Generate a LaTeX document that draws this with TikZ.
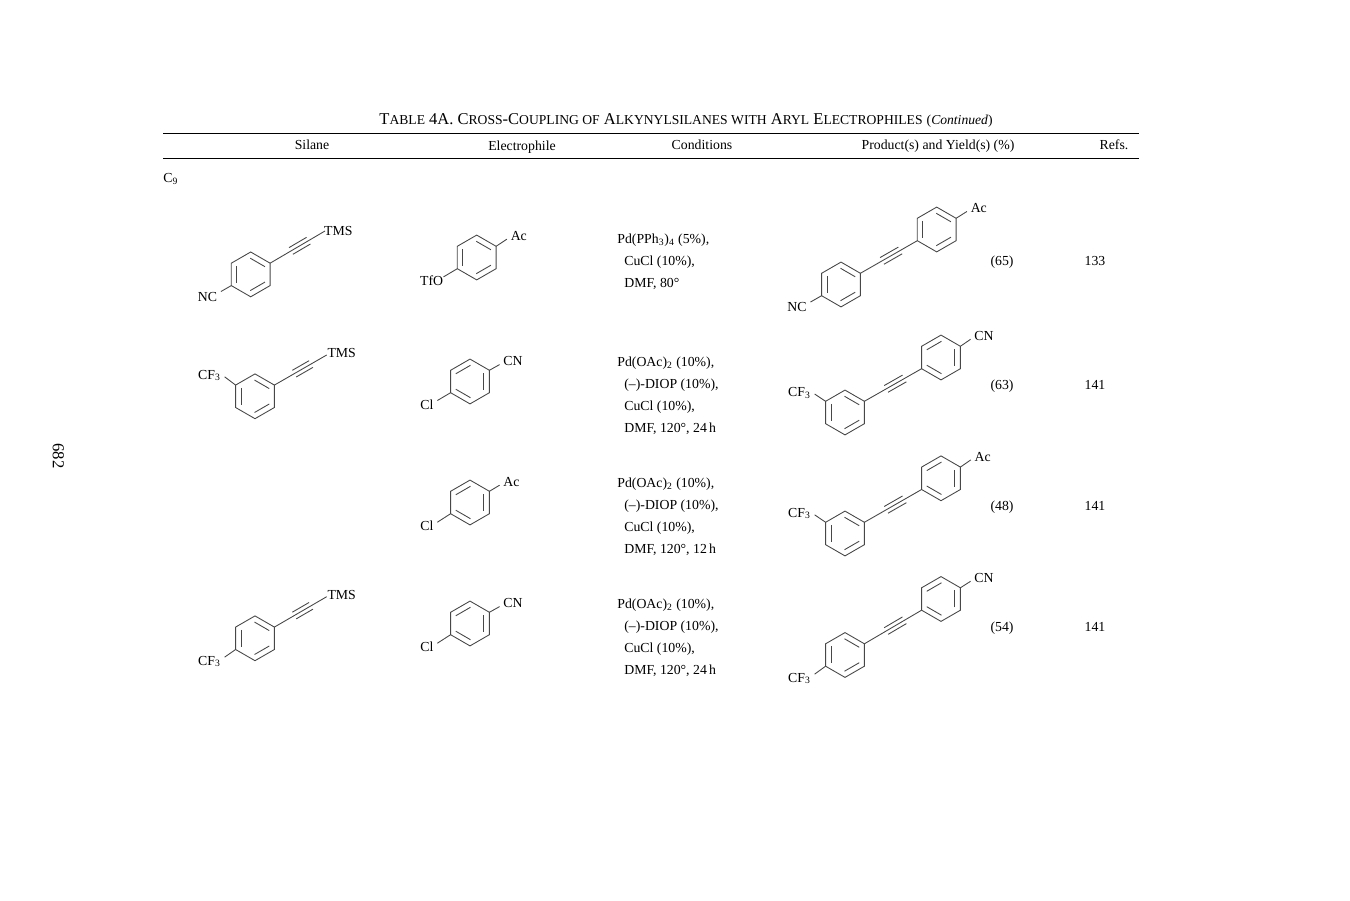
\documentclass[tikz,border=0pt]{standalone}
\usepackage{fontspec}
\setmainfont{Liberation Serif}
\usetikzlibrary{calc}
\newcommand{\tabfont}{\fontsize{7.85}{10}\selectfont}
\newcommand{\capfont}[1]{{\fontsize{7.75}{10}\selectfont #1}}
\newcommand{\tribond}[2]{%
  \draw[bond]
    (#1)
    --
    (#2);
  \draw[bond]
    ($(#1)!.38!(#2)!2.2pt!90:(#2)$)
    --
    ($(#1)!.70!(#2)!2.2pt!90:(#2)$);
  \draw[bond]
    ($(#1)!.38!(#2)!2.2pt!-90:(#2)$)
    --
    ($(#1)!.70!(#2)!2.2pt!-90:(#2)$);
}
\tikzset{
  bond/.style={line width=0.5pt,black!72},
  rule/.style={line width=0.5pt,black},
  lab/.style={inner sep=2pt},
  txt/.style={inner sep=0pt,anchor=base west},
  mid/.style={inner sep=0pt,anchor=base},
  pics/benz/.style={
    code={
      \coordinate (-n) at (0,-22.4);
      \coordinate (-ne) at (19.4,-11.2);
      \coordinate (-se) at (19.4,11.2);
      \coordinate (-s) at (0,22.4);
      \coordinate (-sw) at (-19.4,11.2);
      \coordinate (-nw) at (-19.4,-11.2);
      \draw[bond,line join=miter]
        (-n) -- (-ne) -- (-se) -- (-s) -- (-sw) -- (-nw) -- cycle;
      \foreach \turn in {0,120,240}
        \draw[bond,rotate=#1+\turn]
          (-13.8,-8.5)
          --
          (-13.8,8.5);
    }
  }
}
\begin{document}
\begin{tikzpicture}[x=0.02cm,y=-0.02cm,every node/.style={font=\tabfont}]
  \useasboundingbox (0,0) rectangle (1350,901);

  \node[rotate=-90,inner sep=0pt,font=\fontsize{9.5}{10}\selectfont] (page) at (58.3,456) {682};
  \node[mid,font=\fontsize{9.4}{10}\selectfont] (title) at (686,124.8) {T\capfont{ABLE} 4A. C\capfont{ROSS}-C\capfont{OUPLING OF} A\capfont{LKYNYLSILANES WITH} A\capfont{RYL} E\capfont{LECTROPHILES} \capfont{(\textit{Continued})}};
  \coordinate (ruleAl) at (163,133.4);
  \coordinate (ruleAr) at (1139,133.4);
  \coordinate (ruleBl) at (163,158.4);
  \coordinate (ruleBr) at (1139,158.4);
  \draw[rule]
    (ruleAl)
    --
    (ruleAr);
  \draw[rule]
    (ruleBl)
    --
    (ruleBr);
  \node[mid] (hsilane) at (312,150) {Silane};
  \node[mid] (helec) at (522,151) {Electrophile};
  \node[mid] (hcond) at (702,150) {Conditions};
  \node[mid] (hprod) at (938,150) {Product(s) and Yield(s) (\%)};
  \node[mid] (hrefs) at (1114,150) {Refs.};
  \node[txt] (carbon) at (163,183) {C\textsubscript{9}};

  \pic (s1) at (250.7,274.4) {benz=0};
  \coordinate (s1-tip) at (325,231);
  \tribond{s1-ne}{s1-tip}
  \node[lab] (s1-tms) at (338.3,231) {TMS};
  \node[lab] (s1-nc) at (207.5,297.5) {NC};
  \draw[bond]
    (s1-sw)
    --
    (s1-nc.24);

  \pic (s2) at (255,396.3) {benz=0};
  \coordinate (s2-tip) at (326.7,355);
  \tribond{s2-ne}{s2-tip}
  \node[lab] (s2-tms) at (341.7,352.7) {TMS};
  \node[lab] (s2-cf) at (209.5,375.5) {CF\textsubscript{3}};
  \draw[bond]
    (s2-nw)
    --
    (s2-cf.355);

  \pic (s4) at (255,638.3) {benz=0};
  \coordinate (s4-tip) at (326.7,596.7);
  \tribond{s4-ne}{s4-tip}
  \node[lab] (s4-tms) at (341.7,595) {TMS};
  \node[lab] (s4-cf) at (209.5,661.5) {CF\textsubscript{3}};
  \draw[bond]
    (s4-sw)
    --
    (s4-cf.16);

  \pic (e1) at (476.7,257.5) {benz=0};
  \node[lab] (e1-ac) at (518.8,236) {Ac};
  \node[inner sep=0pt] (e1-tfo) at (431.7,280.5) {TfO};
  \draw[bond]
    (e1-ne)
    --
    (e1-ac.195);
  \draw[bond]
    (e1-sw)
    --
    (e1-tfo.17);

  \pic (e2) at (470,381.5) {benz=180};
  \node[lab] (e2-cn) at (513,361) {CN};
  \node[lab] (e2-cl) at (427,404.3) {Cl};
  \draw[bond]
    (e2-ne)
    --
    (e2-cn.195);
  \draw[bond]
    (e2-sw)
    --
    (e2-cl.20);

  \pic (e3) at (470,502.5) {benz=180};
  \node[lab] (e3-ac) at (511.5,482) {Ac};
  \node[lab] (e3-cl) at (427,526) {Cl};
  \draw[bond]
    (e3-ne)
    --
    (e3-ac.195);
  \draw[bond]
    (e3-sw)
    --
    (e3-cl.20);

  \pic (e4) at (470,623.5) {benz=180};
  \node[lab] (e4-cn) at (513,603) {CN};
  \node[lab] (e4-cl) at (427,647) {Cl};
  \draw[bond]
    (e4-ne)
    --
    (e4-cn.195);
  \draw[bond]
    (e4-sw)
    --
    (e4-cl.20);

  \node[txt] (c1a) at (617,244) {Pd(PPh\textsubscript{3})\textsubscript{4} (5\%),};
  \node[txt] (c1b) at (624,266) {CuCl (10\%),};
  \node[txt] (c1c) at (624,288) {DMF, 80°};

  \node[txt] (c2a) at (617,367) {Pd(OAc)\textsubscript{2} (10\%),};
  \node[txt] (c2b) at (624,389) {(–)-DIOP (10\%),};
  \node[txt] (c2c) at (624,411) {CuCl (10\%),};
  \node[txt] (c2d) at (624,433) {DMF, 120°, 24\,h};

  \node[txt] (c3a) at (617,488) {Pd(OAc)\textsubscript{2} (10\%),};
  \node[txt] (c3b) at (624,510) {(–)-DIOP (10\%),};
  \node[txt] (c3c) at (624,532) {CuCl (10\%),};
  \node[txt] (c3d) at (624,554) {DMF, 120°, 12\,h};

  \node[txt] (c4a) at (617,609) {Pd(OAc)\textsubscript{2} (10\%),};
  \node[txt] (c4b) at (624,631) {(–)-DIOP (10\%),};
  \node[txt] (c4c) at (624,653) {CuCl (10\%),};
  \node[txt] (c4d) at (624,675) {DMF, 120°, 24\,h};

  \pic (p1l) at (841,284.5) {benz=0};
  \pic (p1r) at (936.7,229.5) {benz=0};
  \tribond{p1l-ne}{p1r-sw}
  \node[lab] (p1-nc) at (797,307.5) {NC};
  \node[lab] (p1-ac) at (978.8,208.3) {Ac};
  \draw[bond]
    (p1l-sw)
    --
    (p1-nc.22);
  \draw[bond]
    (p1r-ne)
    --
    (p1-ac.195);

  \pic (p2l) at (845,412.5) {benz=0};
  \pic (p2r) at (941,357.5) {benz=180};
  \tribond{p2l-ne}{p2r-sw}
  \node[lab] (p2-cf) at (799.5,392.7) {CF\textsubscript{3}};
  \node[lab] (p2-cn) at (984,335.7) {CN};
  \draw[bond]
    (p2l-nw)
    --
    (p2-cf.355);
  \draw[bond]
    (p2r-ne)
    --
    (p2-cn.195);

  \pic (p3l) at (845,533.5) {benz=0};
  \pic (p3r) at (941,478.3) {benz=180};
  \tribond{p3l-ne}{p3r-sw}
  \node[lab] (p3-cf) at (799.5,513.5) {CF\textsubscript{3}};
  \node[lab] (p3-ac) at (982.7,456.7) {Ac};
  \draw[bond]
    (p3l-nw)
    --
    (p3-cf.355);
  \draw[bond]
    (p3r-ne)
    --
    (p3-ac.195);

  \pic (p4l) at (845,655) {benz=0};
  \pic (p4r) at (941,599) {benz=180};
  \tribond{p4l-ne}{p4r-sw}
  \node[lab] (p4-cf) at (799.5,678.5) {CF\textsubscript{3}};
  \node[lab] (p4-cn) at (984,577.7) {CN};
  \draw[bond]
    (p4l-sw)
    --
    (p4-cf.16);
  \draw[bond]
    (p4r-ne)
    --
    (p4-cn.195);

  \node[mid] (y1) at (1002,266) {(65)};
  \node[mid] (r1) at (1095,266) {133};
  \node[mid] (y2) at (1002,390) {(63)};
  \node[mid] (r2) at (1095,390) {141};
  \node[mid] (y3) at (1002,511) {(48)};
  \node[mid] (r3) at (1095,511) {141};
  \node[mid] (y4) at (1002,632) {(54)};
  \node[mid] (r4) at (1095,632) {141};
\end{tikzpicture}
\end{document}
